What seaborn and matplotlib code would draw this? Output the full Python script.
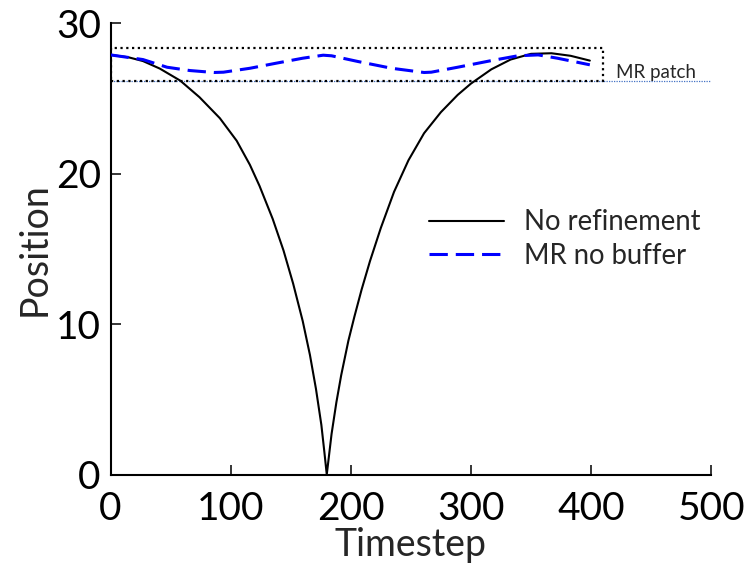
import matplotlib
matplotlib.use("Agg")
import matplotlib.pyplot as plt
from matplotlib.patches import Rectangle
import seaborn as sns
import pandas as pd

# Position of the tracked point over time, without mesh refinement
t_noref = [0, 15, 27, 41, 58, 74, 91, 105, 116, 124, 135, 144, 152, 160, 166,
           171, 175.5, 178, 180, 184, 188, 192, 198, 203, 209, 216, 225, 236,
           248, 261, 275, 289, 300, 317, 333, 350, 367, 383, 399]
pos_noref = [27.91, 27.75, 27.5, 27.0, 26.2, 25.1, 23.7, 22.2, 20.6, 19.2,
             17.0, 14.9, 12.7, 10.2, 7.95, 5.7, 3.3, 1.5, 0.0, 2.7, 4.8, 6.6,
             8.9, 10.5, 12.3, 14.2, 16.4, 18.8, 20.9, 22.7, 24.1, 25.25, 26.0,
             26.95, 27.6, 27.98, 28.02, 27.85, 27.53]

# Same run with mesh refinement, no buffer zone
t_mr = [0, 27, 47, 66, 86, 94, 116, 138, 160, 177, 184, 206, 234, 261, 267,
        289, 317, 339, 356, 372, 399]
pos_mr = [27.91, 27.6, 27.09, 26.87, 26.74, 26.76, 27.02, 27.36, 27.69, 27.89,
          27.85, 27.47, 27.02, 26.74, 26.76, 27.09, 27.53, 27.85, 27.91, 27.69,
          27.25]

# Extent of the refined patch
patch_t = [0, 410]
patch_pos = [26.15, 28.35]
patch_label = "MR patch"

series_names = ["No refinement", "MR no buffer"]

sns.set_style("ticks")
plt.rcParams["font.family"] = ["Lato", "DejaVu Sans"]

fig = plt.figure(figsize=(7.54, 5.67), dpi=100)
ax = fig.add_axes([0.1466, 0.1631, 0.7966, 0.7955])

df_noref = pd.DataFrame({"Timestep": t_noref, "Position": pos_noref})
df_mr = pd.DataFrame({"Timestep": t_mr, "Position": pos_mr})

# lower edge of the patch, carried across the whole axis
ax.plot([patch_t[0], 500], [patch_pos[0], patch_pos[0]], color="#4472C4",
        lw=0.9, linestyle=(0, (1, 1)), zorder=1)
ax.add_patch(Rectangle((patch_t[0], patch_pos[0]), patch_t[1] - patch_t[0],
                       patch_pos[1] - patch_pos[0], fill=False,
                       edgecolor="black", lw=1.6, linestyle=(0, (1, 1.6)),
                       zorder=2))

sns.lineplot(data=df_noref, x="Timestep", y="Position", ax=ax, color="black",
             lw=1.5, label=series_names[0], zorder=3)
sns.lineplot(data=df_mr, x="Timestep", y="Position", ax=ax, color="#0000FF",
             lw=2.2, linestyle=(0, (6, 2.6)), label=series_names[1], zorder=4)

ax.text(421, patch_pos[0] + 0.2, patch_label, fontsize=13.5, ha="left",
        va="baseline")

ax.set_xlim(0, 500)
ax.set_ylim(0, 30)
ax.set_xticks([0, 100, 200, 300, 400, 500])
ax.set_yticks([0, 10, 20, 30])
ax.set_xlabel("Timestep", fontsize=27, labelpad=0)
ax.set_ylabel("Position", fontsize=27, labelpad=2)
ax.tick_params(axis="both", direction="in", length=7.5, width=1.1,
               labelsize=28, colors="black")
ax.tick_params(axis="x", pad=12)
ax.tick_params(axis="y", pad=7)
for side in ["top", "right"]:
    ax.spines[side].set_visible(False)
for side in ["left", "bottom"]:
    ax.spines[side].set_linewidth(1.5)
    ax.spines[side].set_color("black")

ax.legend(loc="center left", bbox_to_anchor=(0.508, 0.522), frameon=False,
          fontsize=19.8, handlelength=2.7, handletextpad=0.75, borderpad=0,
          labelspacing=0.26)

fig.savefig("out.png", dpi=100)
